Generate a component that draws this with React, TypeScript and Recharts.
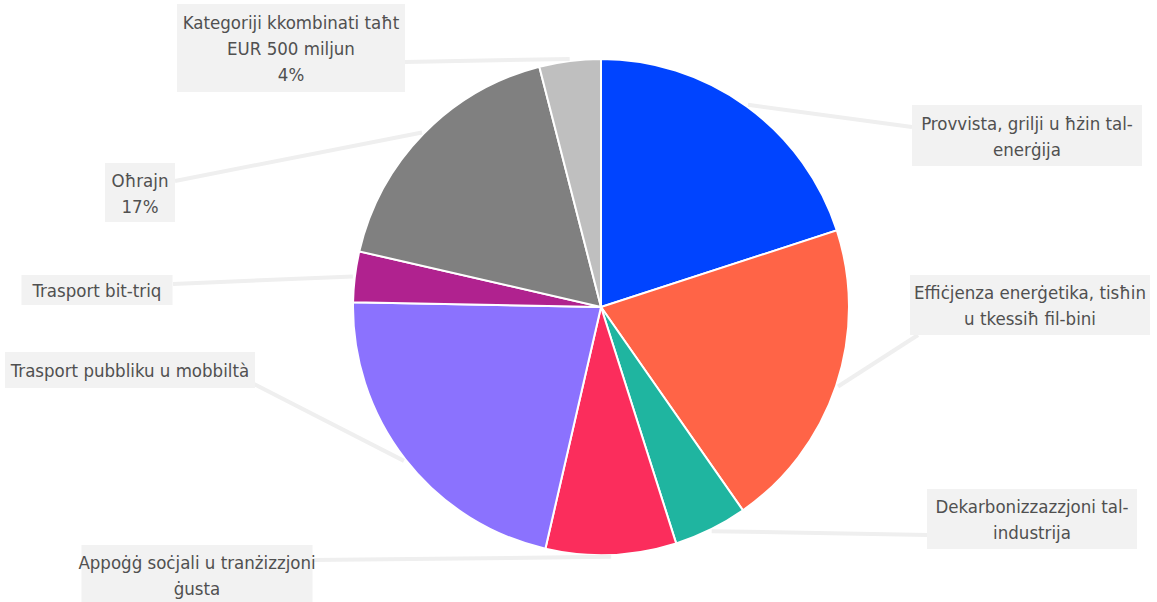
import React from 'react'
import { PieChart, Pie, Cell } from 'recharts'

// slices, clockwise from 12 o'clock
const categories = [
  'Provvista, grilji u ħżin tal-enerġija',
  'Effiċjenza enerġetika, tisħin u tkessiħ fil-bini',
  'Dekarbonizzazzjoni tal-industrija',
  'Appoġġ soċjali u tranżizzjoni ġusta',
  'Trasport pubbliku u mobbiltà',
  'Trasport bit-triq',
  'Oħrajn',
  'Kategoriji kkombinati taħt EUR 500 miljun',
]
const values = [20, 20.3, 4.8, 8.5, 21.7, 3.3, 17.4, 4]
const colors = ['#0044ff', '#ff6447', '#1fb5a0', '#fb2d5c', '#8b72fe', '#b0228f', '#808080', '#bfbfbf']

const labelLines: string[][] = [
  ['Provvista, grilji u ħżin tal-', 'enerġija'],
  ['Effiċjenza enerġetika, tisħin', 'u tkessiħ fil-bini'],
  ['Dekarbonizzazzjoni tal-', 'industrija'],
  ['Appoġġ soċjali u tranżizzjoni', 'ġusta'],
  ['Trasport pubbliku u mobbiltà'],
  ['Trasport bit-triq'],
  ['Oħrajn'],
  ['Kategoriji kkombinati taħt', 'EUR 500 miljun'],
]
const showPct = [false, false, false, false, false, false, true, true]

// label box layout: centre x, top y, width, height, connector end x, y
const boxes = [
  [1027, 105, 230, 61, 912, 127],
  [1030, 275, 240, 60, 918, 335],
  [1032, 489, 210, 60, 928, 535],
  [197, 545, 231, 60, 313, 560],
  [130, 352, 250, 36, 254, 384],
  [97, 275, 151, 30, 173, 284],
  [140, 163, 70, 59, 175, 181],
  [291, 4, 228, 88, 405, 62],
]

const data = categories.map((name, i) => ({ name, value: values[i] }))

const FONT = "'Liberation Sans Narrow', 'DejaVu Sans Condensed', 'Roboto', sans-serif"
const RAD = Math.PI / 180

const renderLabel = (props: any) => {
  const { cx, cy, midAngle, outerRadius, index, percent } = props
  const sx = cx + (outerRadius + 2) * Math.cos(-midAngle * RAD)
  const sy = cy + (outerRadius + 2) * Math.sin(-midAngle * RAD)
  const [bx, by, bw, bh, ax, ay] = boxes[index]
  const lines = showPct[index]
    ? [...labelLines[index], `${Math.round(percent * 100)}%`]
    : labelLines[index]
  const first = by + bh / 2 - (lines.length - 1) * 13 + 7
  return (
    <g key={`lbl-${index}`}>
      <line x1={sx} y1={sy} x2={ax} y2={ay} stroke="#efefef" strokeWidth={4} />
      <rect x={bx - bw / 2} y={by} width={bw} height={bh} fill="#f2f2f2" />
      <text textAnchor="middle" fill="#505050" fontSize={18.5} fontFamily={FONT}>
        {lines.map((l, j) => (
          <tspan key={j} x={bx} y={first + j * 26}>{l}</tspan>
        ))}
      </text>
    </g>
  )
}

export default function App() {
  return (
    <div style={{ position: 'absolute', left: 0, top: 0, width: 1157, height: 602, background: '#fff' }}>
      <PieChart width={1157} height={602} margin={{ top: 0, right: 0, bottom: 0, left: 0 }}>
        <Pie
          data={data}
          dataKey="value"
          nameKey="name"
          cx={601}
          cy={307}
          outerRadius={248}
          startAngle={90}
          endAngle={-270}
          stroke="#ffffff"
          strokeWidth={2}
          label={renderLabel}
          labelLine={false}
          isAnimationActive={false}
        >
          {data.map((d, i) => (
            <Cell key={d.name} fill={colors[i]} />
          ))}
        </Pie>
      </PieChart>
    </div>
  )
}
